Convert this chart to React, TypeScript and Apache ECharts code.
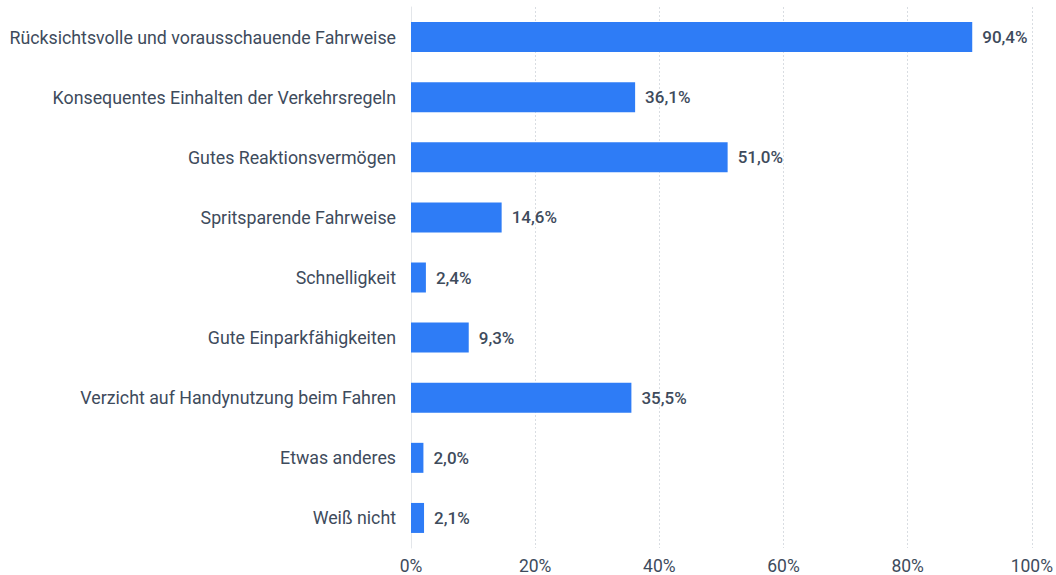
import React, { useEffect, useRef } from "react";
import * as echarts from "echarts";

const categories = [
  "Rücksichtsvolle und vorausschauende Fahrweise",
  "Konsequentes Einhalten der Verkehrsregeln",
  "Gutes Reaktionsvermögen",
  "Spritsparende Fahrweise",
  "Schnelligkeit",
  "Gute Einparkfähigkeiten",
  "Verzicht auf Handynutzung beim Fahren",
  "Etwas anderes",
  "Weiß nicht",
];
const values = [90.4, 36.1, 51.0, 14.6, 2.4, 9.3, 35.5, 2.0, 2.1];

export default function App() {
  const ref = useRef<HTMLDivElement>(null);
  useEffect(() => {
    document.body.style.margin = "0";
    const chart = echarts.init(ref.current!, null, { renderer: "svg" });
    chart.setOption({
      animation: false,
      grid: { left: 411, right: 24, top: 7, bottom: 27, containLabel: false },
      xAxis: {
        type: "value",
        min: 0,
        max: 100,
        interval: 20,
        axisLine: { show: false },
        axisTick: { show: false },
        axisLabel: {
          formatter: "{value}%",
          fontFamily: "Roboto",
          fontSize: 17.5,
          color: "#3e4b5c",
          margin: 9,
        },
        splitLine: { show: true, lineStyle: { color: "#d9dde2", type: [2, 2], width: 1 } },
      },
      yAxis: {
        type: "category",
        data: categories,
        inverse: true,
        axisLine: { show: true, lineStyle: { color: "#e3e6ea", width: 1 } },
        axisTick: { show: false },
        axisLabel: {
          fontFamily: "Roboto",
          fontSize: 17.8,
          color: "#3e4b5c",
          margin: 15,
        },
      },
      series: [
        {
          type: "bar",
          data: values,
          barWidth: 30,
          itemStyle: { color: "#2e7cf6" },
          label: {
            show: true,
            position: "right",
            distance: 10,
            formatter: (p: any) => p.value.toFixed(1).replace(".", ",") + "%",
            fontFamily: "Roboto",
            fontSize: 17,
            fontWeight: 500,
            color: "#3e4b5c",
          },
        },
      ],
    });
    return () => chart.dispose();
  }, []);
  return <div ref={ref} style={{ width: 1056, height: 575 }} />;
}
